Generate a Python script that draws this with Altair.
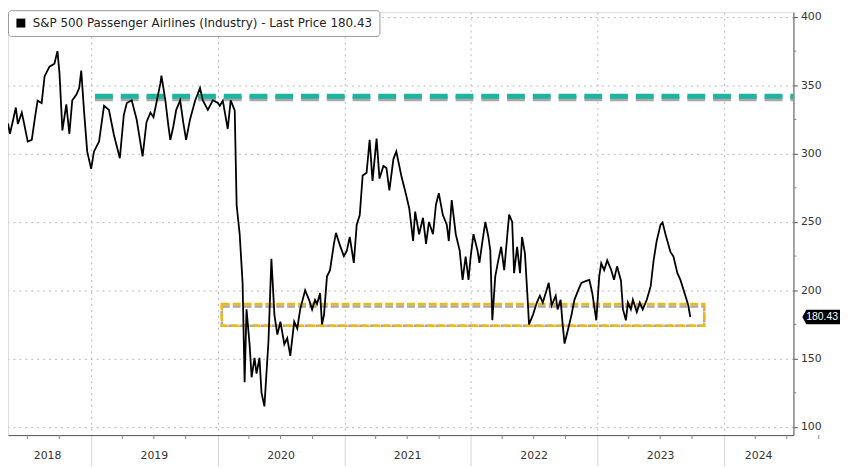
import math
import altair as alt
import pandas as pd

SERIES = "S&P 500 Passenger Airlines (Industry) - Last Price 180.43"

# decimal-year time stamps and prices
years = [
    2018.343, 2018.358, 2018.382, 2018.405, 2018.421, 2018.452, 2018.468, 2018.499, 2018.531, 2018.554,
    2018.577, 2018.609, 2018.632, 2018.671, 2018.710, 2018.734, 2018.750, 2018.773, 2018.804, 2018.828,
    2018.851, 2018.883, 2018.906, 2018.922, 2018.945, 2018.969, 2019.000, 2019.023, 2019.063, 2019.102,
    2019.141, 2019.180, 2019.227, 2019.258, 2019.282, 2019.321, 2019.360, 2019.407, 2019.438, 2019.469,
    2019.493, 2019.516, 2019.548, 2019.556, 2019.587, 2019.610, 2019.626, 2019.649, 2019.673, 2019.704,
    2019.728, 2019.751, 2019.782, 2019.822, 2019.861, 2019.884, 2019.923, 2019.962, 2020.002, 2020.017,
    2020.041, 2020.080, 2020.103, 2020.135, 2020.150, 2020.174, 2020.197, 2020.213, 2020.228, 2020.252,
    2020.268, 2020.291, 2020.307, 2020.330, 2020.346, 2020.369, 2020.385, 2020.401, 2020.424, 2020.448,
    2020.471, 2020.495, 2020.526, 2020.549, 2020.573, 2020.604, 2020.628, 2020.651, 2020.690, 2020.721,
    2020.745, 2020.768, 2020.784, 2020.808, 2020.823, 2020.839, 2020.862, 2020.886, 2020.917, 2020.933,
    2020.964, 2020.995, 2021.019, 2021.042, 2021.074, 2021.097, 2021.121, 2021.144, 2021.175, 2021.199,
    2021.222, 2021.254, 2021.277, 2021.308, 2021.332, 2021.355, 2021.387, 2021.410, 2021.449, 2021.488,
    2021.512, 2021.543, 2021.559, 2021.590, 2021.621, 2021.645, 2021.668, 2021.700, 2021.723, 2021.746,
    2021.778, 2021.809, 2021.825, 2021.848, 2021.880, 2021.911, 2021.934, 2021.958, 2021.981, 2021.997,
    2022.020, 2022.052, 2022.067, 2022.091, 2022.114, 2022.138, 2022.153, 2022.169, 2022.192, 2022.216,
    2022.239, 2022.263, 2022.286, 2022.302, 2022.326, 2022.341, 2022.365, 2022.388, 2022.404, 2022.427,
    2022.451, 2022.459, 2022.490, 2022.521, 2022.545, 2022.568, 2022.599, 2022.615, 2022.638, 2022.670,
    2022.685, 2022.709, 2022.725, 2022.740, 2022.764, 2022.795, 2022.818, 2022.850, 2022.873, 2022.912,
    2022.936, 2022.959, 2022.991, 2023.014, 2023.030, 2023.053, 2023.077, 2023.108, 2023.131, 2023.155,
    2023.186, 2023.202, 2023.225, 2023.241, 2023.264, 2023.280, 2023.311, 2023.335, 2023.358, 2023.390,
    2023.421, 2023.444, 2023.468, 2023.499, 2023.515, 2023.538, 2023.577, 2023.601, 2023.632, 2023.656,
    2023.695, 2023.718, 2023.734,
]
prices = [
    322, 314.5, 324, 333.7, 321.6, 330, 323, 308.8, 310, 325,
    338.7, 337, 356.5, 363.6, 365.8, 375, 358.7, 317, 336, 314.5,
    339, 343, 348, 360.8, 330, 301.6, 288.8, 301.6, 308.8, 335,
    332, 313.8, 296.6, 328, 337, 339, 325, 298, 323, 330,
    326.6, 337, 351.5, 357, 339, 321, 310, 319.5, 332, 339,
    323, 310, 325, 338.7, 348, 338.7, 332, 339, 337, 335,
    338.7, 318, 339, 331.6, 262.4, 241, 205.4, 132.7, 186, 160.5,
    136.3, 150.5, 139, 150.5, 125, 115, 139, 162.7, 223, 182,
    167.6, 177, 160.5, 165, 152, 177, 172, 186, 200, 193,
    186, 193, 190, 198, 175, 182, 210, 214.7, 234, 242,
    233, 225, 229, 239, 220, 248, 255, 284, 286, 310,
    280, 311, 281.7, 291, 289.5, 273, 296, 301.6, 284, 269.6,
    260, 236, 257.5, 241, 253, 234, 250, 241, 262.4, 271,
    255, 248, 236, 266, 241, 229, 207.6, 224.7, 207.6, 224,
    241, 229, 220, 236, 250, 239, 229, 178, 210, 221.8,
    231.8, 214.7, 239, 255.3, 250, 212.5, 231.8, 212.5, 239, 226.8,
    189, 175, 182, 191, 196, 191, 200.4, 205.4, 189, 196,
    186, 193, 175, 161, 170, 182, 193, 200.4, 205.4, 206.8,
    207.6, 198, 178, 210, 219.7, 214.7, 221.8, 215, 207.6, 217.5,
    207, 186, 178, 191, 186, 193, 184, 191, 186, 193,
    203, 221.8, 236, 248, 249.6, 241, 228, 224.7, 212.5, 207.6,
    196, 189, 180.43,
]
last_price = 180.43

# axis / annotation values
x_domain = [2018.343, 2024.548]
y_domain = [94, 403.5]
y_ticks = [100, 150, 200, 250, 300, 350, 400]
y_minor = [125, 175, 225, 275, 325, 375]
year_starts = [2019, 2020, 2021, 2022, 2023, 2024]
year_labels = ["2018", "2019", "2020", "2021", "2022", "2023", "2024"]
year_label_pos = [2018.656, 2019.5, 2020.5, 2021.5, 2022.5, 2023.5, 2024.274]
quarter_ticks = [2018.496, 2018.748] + [y + q for y in range(2019, 2025) for q in (0.247, 0.496, 0.748)]
resistance_level = 342
resistance_span = [2019.031, 2024.548]
support_box = [2020.033, 2023.844, 174, 190]

W, H = 793, 427
TEAL = "#1db4a0"
GOLD = "#f4b70d"
FONT = "DejaVu Sans"


def dec_to_ts(y):
    yr = int(math.floor(y))
    start = pd.Timestamp(year=yr, month=1, day=1)
    end = pd.Timestamp(year=yr + 1, month=1, day=1)
    return (start + (end - start) * (y - yr)).floor("h")


def dt(y):
    t = dec_to_ts(y)
    return alt.DateTime(year=t.year, month=t.month, date=t.day, hours=t.hour)


xscale = alt.Scale(domain=[dt(x_domain[0]), dt(x_domain[1])])
yscale = alt.Scale(domain=y_domain, nice=False, zero=False)

x_axis = alt.Axis(
    values=[alt.DateTime(year=y, month=1, date=1) for y in year_starts],
    labels=False, grid=True, gridDash=[2, 4], gridColor="#b8b8b8",
    tickSize=31, tickColor="#d4d4d4", domainColor="#555555", title=None,
)
y_axis = alt.Axis(
    orient="right", values=y_ticks, grid=True, gridDash=[2, 4], gridColor="#b8b8b8",
    tickSize=4, tickColor="#555555", domainColor="#555555", labelPadding=3,
    labelFont=FONT, labelFontSize=11, labelColor="#333333", title=None,
)


def X(field):
    return alt.X(field, scale=xscale, axis=x_axis)


def Y(field):
    return alt.Y(field, scale=yscale, axis=y_axis)


line_df = pd.DataFrame({
    "date": [dec_to_ts(y) for y in years],
    "price": prices,
    "series": [SERIES] * len(prices),
})
res_df = pd.DataFrame({
    "start": [dec_to_ts(resistance_span[0])],
    "end": [dec_to_ts(resistance_span[1])],
    "level": [resistance_level],
})
box_df = pd.DataFrame({
    "start": [dec_to_ts(support_box[0])],
    "end": [dec_to_ts(support_box[1])],
    "low": [support_box[2]],
    "high": [support_box[3]],
})
q_df = pd.DataFrame({"date": [dec_to_ts(q) for q in quarter_ticks]})
ym_df = pd.DataFrame({"v": y_minor})
yl_df = pd.DataFrame({"date": [dec_to_ts(p) for p in year_label_pos], "label": year_labels})
tag_df = pd.DataFrame({"v": [last_price], "label": [f"{last_price:.2f}"]})

res_shadow = alt.Chart(res_df).mark_rule(
    color="#a8a8a8", strokeWidth=5, strokeDash=[18, 8], yOffset=2.5, strokeCap="butt"
).encode(x=X("start:T"), x2="end:T", y=Y("level:Q"))
res_line = alt.Chart(res_df).mark_rule(
    color=TEAL, strokeWidth=5, strokeDash=[18, 8], strokeCap="butt"
).encode(x=X("start:T"), x2="end:T", y=Y("level:Q"))

box_shadow = alt.Chart(box_df).mark_rect(
    filled=False, stroke="#a8a8a8", strokeWidth=2.5, strokeDash=[8, 3], yOffset=2.5
).encode(x=X("start:T"), x2="end:T", y=Y("high:Q"), y2="low:Q")
box = alt.Chart(box_df).mark_rect(
    filled=False, stroke=GOLD, strokeWidth=2.5, strokeDash=[8, 3]
).encode(x=X("start:T"), x2="end:T", y=Y("high:Q"), y2="low:Q")

price_line = alt.Chart(line_df).mark_line(strokeWidth=1.8).encode(
    x=X("date:T"),
    y=Y("price:Q"),
    color=alt.Color("series:N", scale=alt.Scale(range=["#000000"]), legend=alt.Legend(
        orient="none", legendX=0, legendY=-2, title=None,
        symbolType="square", symbolSize=81, symbolFillColor="#000000", symbolStrokeColor="#000000",
        symbolStrokeWidth=0, labelFont=FONT, labelFontSize=12, labelColor="#222222",
        labelLimit=0, labelOffset=6, padding=7, strokeColor="#9a9a9a", cornerRadius=3,
        fillColor="#ffffff",
    )),
)

q_ticks = alt.Chart(q_df).mark_rule(color="#888888", strokeWidth=1).encode(
    x=X("date:T"), y=alt.value(H), y2=alt.value(H + 4)
)
y_minor_ticks = alt.Chart(ym_df).mark_rule(color="#888888", strokeWidth=1).encode(
    y=Y("v:Q"), x=alt.value(W), x2=alt.value(W + 3)
)
year_text = alt.Chart(yl_df).mark_text(
    font=FONT, fontSize=11, color="#333333", align="center", baseline="middle"
).encode(x=X("date:T"), y=alt.value(H + 21), text="label:N")

tag_path = "M -1 0 L -0.79 -0.39 L 1 -0.39 L 1 0.39 L -0.79 0.39 Z"
tag = alt.Chart(tag_df).mark_point(
    shape=tag_path, size=1444, filled=True, color="#000000", opacity=1
).encode(y=Y("v:Q"), x=alt.value(W + 28))
tag_text = alt.Chart(tag_df).mark_text(
    font="Liberation Sans", fontSize=10.5, color="#ffffff", align="center", baseline="middle", dx=1
).encode(y=Y("v:Q"), x=alt.value(W + 28), text="label:N")

chart = alt.layer(
    res_shadow, res_line, box_shadow, box, price_line, q_ticks, y_minor_ticks, year_text, tag, tag_text
).properties(
    width=W, height=H,
    padding={"left": 0, "top": 2, "right": 47, "bottom": 30},
    autosize=alt.AutoSizeParams(type="none"),
).configure_view(strokeWidth=0).configure(background="#ffffff")

chart.save("out.html", embed_options={"renderer": "svg", "actions": False})
